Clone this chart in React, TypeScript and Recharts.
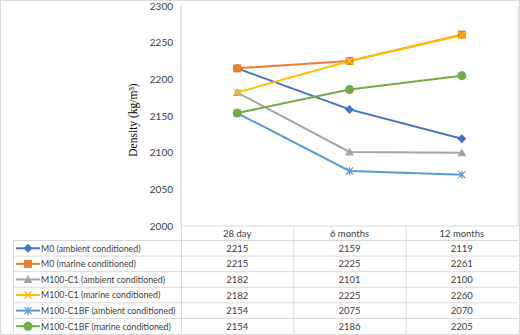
import { CartesianGrid, Label, Line, LineChart, XAxis, YAxis } from 'recharts';

// period columns of the data table
const categories = ['28 day', '6 months', '12 months'];

// density readings, kg/m3
const m0Ambient = [2215, 2159, 2119];
const m0Marine = [2215, 2225, 2261];
const c1Ambient = [2182, 2101, 2100];
const c1Marine = [2182, 2225, 2260];
const c1bfAmbient = [2154, 2075, 2070];
const c1bfMarine = [2154, 2186, 2205];

const yTicks = [2000, 2050, 2100, 2150, 2200, 2250, 2300];

type Shape = 'diamond' | 'square' | 'triangle' | 'x' | 'star' | 'circle';

const series: { key: string; name: string; color: string; shape: Shape; values: number[] }[] = [
    { key: 's0', name: 'M0 (ambient conditioned)', color: '#4472C4', shape: 'diamond', values: m0Ambient },
    { key: 's1', name: 'M0 (marine conditioned)', color: '#ED7D31', shape: 'square', values: m0Marine },
    { key: 's2', name: 'M100-C1 (ambient conditioned)', color: '#A5A5A5', shape: 'triangle', values: c1Ambient },
    { key: 's3', name: 'M100-C1 (marine conditioned)', color: '#FFC000', shape: 'x', values: c1Marine },
    { key: 's4', name: 'M100-C1BF (ambient conditioned)', color: '#5B9BD5', shape: 'star', values: c1bfAmbient },
    { key: 's5', name: 'M100-C1BF (marine conditioned)', color: '#70AD47', shape: 'circle', values: c1bfMarine },
];

const data = categories.map((category, i) => {
    const row: Record<string, number | string> = { x: i + 0.5, category };
    series.forEach((s) => {
        row[s.key] = s.values[i];
    });
    return row;
});

const W = 520;
const H = 335;
const PLOT_LEFT = 181;
const PLOT_RIGHT = 518;
const PLOT_TOP = 6;
const PLOT_BOTTOM = 226;
const COL_W = (PLOT_RIGHT - PLOT_LEFT) / categories.length;
const HEADER_BOTTOM = 240.5;
const ROW_H = (H - 1 - HEADER_BOTTOM) / series.length;
const TABLE_LEFT = 13;
const GRID = '#D9D9D9';
const TEXT = '#404040';
const FONT = 'Lato, sans-serif';

function Marker({ cx, cy, shape, color }: { cx: number; cy: number; shape: Shape; color: string }) {
    switch (shape) {
        case 'diamond':
            return <polygon points={`${cx},${cy - 4.5} ${cx + 4.5},${cy} ${cx},${cy + 4.5} ${cx - 4.5},${cy}`} fill={color} />;
        case 'square':
            return <rect x={cx - 4} y={cy - 4} width={8} height={8} fill={color} />;
        case 'triangle':
            return <polygon points={`${cx},${cy - 4.5} ${cx + 4.5},${cy + 3.5} ${cx - 4.5},${cy + 3.5}`} fill={color} />;
        case 'x':
            return (
                <g stroke={color} strokeWidth={1.5}>
                    <line x1={cx - 3.5} y1={cy - 3.5} x2={cx + 3.5} y2={cy + 3.5} />
                    <line x1={cx - 3.5} y1={cy + 3.5} x2={cx + 3.5} y2={cy - 3.5} />
                </g>
            );
        case 'star':
            return (
                <g stroke={color} strokeWidth={1.2}>
                    <line x1={cx - 3.5} y1={cy - 3.5} x2={cx + 3.5} y2={cy + 3.5} />
                    <line x1={cx - 3.5} y1={cy + 3.5} x2={cx + 3.5} y2={cy - 3.5} />
                    <line x1={cx} y1={cy - 4} x2={cx} y2={cy + 4} />
                </g>
            );
        default:
            return <circle cx={cx} cy={cy} r={4.5} fill={color} />;
    }
}

function DataTable() {
    return (
        <svg width={W} height={H} style={{ position: 'absolute', left: 0, top: 0, pointerEvents: 'none' }}>
            <rect x={0.5} y={0.5} width={W - 1} height={H - 1} fill="none" stroke={GRID} />
            {/* horizontal rules */}
            {series.map((_, i) => (
                <line
                    key={`h${i}`}
                    x1={TABLE_LEFT}
                    x2={PLOT_RIGHT}
                    y1={HEADER_BOTTOM + i * ROW_H}
                    y2={HEADER_BOTTOM + i * ROW_H}
                    stroke={GRID}
                />
            ))}
            {/* vertical rules */}
            <line x1={TABLE_LEFT + 0.5} x2={TABLE_LEFT + 0.5} y1={HEADER_BOTTOM} y2={H - 1} stroke={GRID} />
            {categories.map((_, i) => (
                <line
                    key={`v${i}`}
                    x1={PLOT_LEFT + i * COL_W + 0.5}
                    x2={PLOT_LEFT + i * COL_W + 0.5}
                    y1={PLOT_BOTTOM}
                    y2={H - 1}
                    stroke={GRID}
                />
            ))}
            <g fontFamily={FONT} fontSize={9.5} fill={TEXT}>
                {categories.map((c, i) => (
                    <text key={c} x={PLOT_LEFT + (i + 0.5) * COL_W} y={PLOT_BOTTOM + 10.5} textAnchor="middle">
                        {c}
                    </text>
                ))}
                {series.map((s, r) => {
                    const cy = HEADER_BOTTOM + (r + 0.5) * ROW_H;
                    return (
                        <g key={s.key}>
                            <line x1={16} x2={40} y1={cy} y2={cy} stroke={s.color} strokeWidth={2} />
                            <Marker cx={28} cy={cy} shape={s.shape} color={s.color} />
                            <text x={41} y={cy + 3.3} fontSize={8.8}>
                                {s.name}
                            </text>
                            {s.values.map((v, i) => (
                                <text key={i} x={PLOT_LEFT + (i + 0.5) * COL_W} y={cy + 3.5} textAnchor="middle">
                                    {v}
                                </text>
                            ))}
                        </g>
                    );
                })}
            </g>
        </svg>
    );
}

export default function App() {
    return (
        <div style={{ position: 'absolute', left: 0, top: 0, width: W, height: H, background: '#fff' }}>
            <LineChart
                width={W}
                height={H}
                data={data}
                margin={{ top: PLOT_TOP, right: W - PLOT_RIGHT, bottom: 0, left: 0 }}
                style={{ position: 'absolute', left: 0, top: 0 }}
            >
                <CartesianGrid horizontal={false} stroke={GRID} strokeWidth={1} ticks={[0, 1, 2, 3]} />
                <XAxis
                    type="number"
                    dataKey="x"
                    domain={[0, categories.length]}
                    ticks={[0, 1, 2, 3]}
                    tick={false}
                    tickLine={false}
                    height={H - PLOT_BOTTOM}
                    axisLine={{ stroke: GRID }}
                />
                <YAxis
                    domain={[2000, 2300]}
                    ticks={yTicks}
                    width={PLOT_LEFT}
                    tickSize={0}
                    tickMargin={8}
                    tickLine={false}
                    axisLine={{ stroke: GRID }}
                    tick={{ fill: TEXT, fontSize: 10, fontFamily: FONT }}
                    interval={0}
                >
                    <Label
                        content={({ viewBox }: any) => {
                            const cy = viewBox.y + viewBox.height / 2 + 4;
                            const cx = 137;
                            return (
                                <text
                                    x={cx}
                                    y={cy}
                                    transform={`rotate(-90 ${cx} ${cy})`}
                                    textAnchor="middle"
                                    fontFamily="'Liberation Serif', serif"
                                    fontSize={11.5}
                                    fontWeight={400}
                                    fill="#000"
                                >
                                    Density (kg/m³)
                                </text>
                            );
                        }}
                    />
                </YAxis>
                {series.map((s) => (
                    <Line
                        key={s.key}
                        dataKey={s.key}
                        name={s.name}
                        stroke={s.color}
                        strokeWidth={2}
                        isAnimationActive={false}
                        dot={(p: any) => <Marker key={`${s.key}-${p.index}`} cx={p.cx} cy={p.cy} shape={s.shape} color={s.color} />}
                        activeDot={false}
                    />
                ))}
            </LineChart>
            <DataTable />
        </div>
    );
}
